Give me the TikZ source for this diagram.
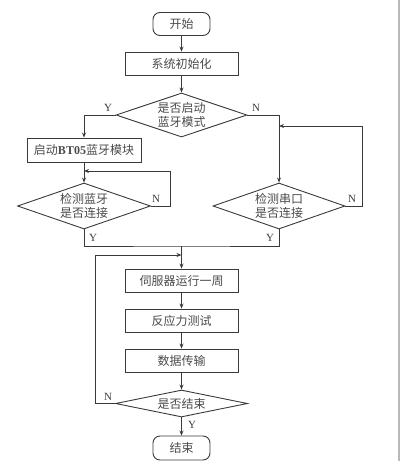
\documentclass[tikz,border=0pt]{standalone}
\usepackage{fontspec}
\setmainfont{Liberation Serif}
\newfontfamily\cjk{Noto Sans CJK SC}
\usetikzlibrary{shapes.geometric,arrows.meta}
\definecolor{ln}{HTML}{3A3A3A}
\definecolor{tx}{HTML}{4A4A4A}
\begin{document}
\begin{tikzpicture}[x=1pt,y=-1pt,
  every node/.style={text=tx},
  base/.style={draw=ln,line width=0.9pt,inner sep=0pt,font=\cjk\fontsize{12}{14}\selectfont},
  term/.style={base,rounded corners=7pt,minimum width=57pt,minimum height=23pt},
  proc/.style={base,minimum width=113pt,minimum height=23pt},
  dia/.style={base,diamond,aspect=3},
  lbl/.style={font=\fontsize{11}{12}\selectfont,inner sep=0pt,text=ln},
  line/.style={draw=ln,line width=0.9pt},
  arr/.style={line,-{Stealth[length=5pt,width=4pt]}}]
\useasboundingbox (0,0) rectangle (400,461);
\fill[gray!55] (398,0) rectangle (400,461);

\node[term] (start) at (181.5,24) {开始};
\node[proc] (init) at (181.5,63.5) {系统初始化};
\node[dia,minimum width=131pt,minimum height=44pt,
  label={[align=center,font=\cjk\fontsize{12}{14}\selectfont,text=tx]center:是否启动\\蓝牙模式}] (d1) at (181.5,115) {};
\node[proc,minimum width=114pt,minimum height=24pt] (bt) at (84,150) {启动{\rmfamily\bfseries BT05}蓝牙模块};
\node[dia,minimum width=133pt,minimum height=46pt,
  label={[align=center,font=\cjk\fontsize{12}{14}\selectfont,text=tx]center:检测蓝牙\\是否连接}] (d2) at (84,206) {};
\node[dia,minimum width=132pt,minimum height=46pt,
  label={[align=center,font=\cjk\fontsize{12}{14}\selectfont,text=tx]center:检测串口\\是否连接}] (d3) at (279,206) {};
\node[proc] (servo) at (181.5,280.5) {伺服器运行一周};
\node[proc] (stress) at (181.5,320.5) {反应力测试};
\node[proc] (data) at (181.5,360.5) {数据传输};
\node[dia,minimum width=132pt,minimum height=27pt,
  label={[font=\cjk\fontsize{12}{14}\selectfont,text=tx]center:是否结束}] (d4) at (181.5,403.5) {};
\node[term,minimum height=24pt] (end) at (181.5,448) {结束};

\coordinate (c2) at (84,171);
\coordinate (c3) at (279,126);
\coordinate (m) at (181.5,246);
\coordinate (c4) at (181.5,255);

\draw[arr] (start) -- (init);
\draw[arr] (init) -- (d1);
\draw[arr] (d1.west) -| (bt.north);
\draw[arr] (d1.east) -| (d3.north);
\draw[arr] (bt) -- (d2);
\draw[arr] (d2.east) -- ++(19,0) |- (c2);
\draw[arr] (d3.east) -- ++(17,0) |- (c3);
\draw[line] (d2.south) |- (m) -| (d3.south);
\draw[arr] (m) -- (servo);
\draw[arr] (servo) -- (stress);
\draw[arr] (stress) -- (data);
\draw[arr] (data) -- (d4);
\draw[arr] (d4.west) -- ++(-19.5,0) |- (c4);
\draw[arr] (d4) -- (end);

\node[lbl] at (108,108) {Y};
\node[lbl] at (256,108) {N};
\node[lbl] at (156,199) {N};
\node[lbl] at (352,199) {N};
\node[lbl] at (93,238) {Y};
\node[lbl] at (270,238) {Y};
\node[lbl] at (108,397) {N};
\node[lbl] at (192,425) {Y};
\end{tikzpicture}
\end{document}
